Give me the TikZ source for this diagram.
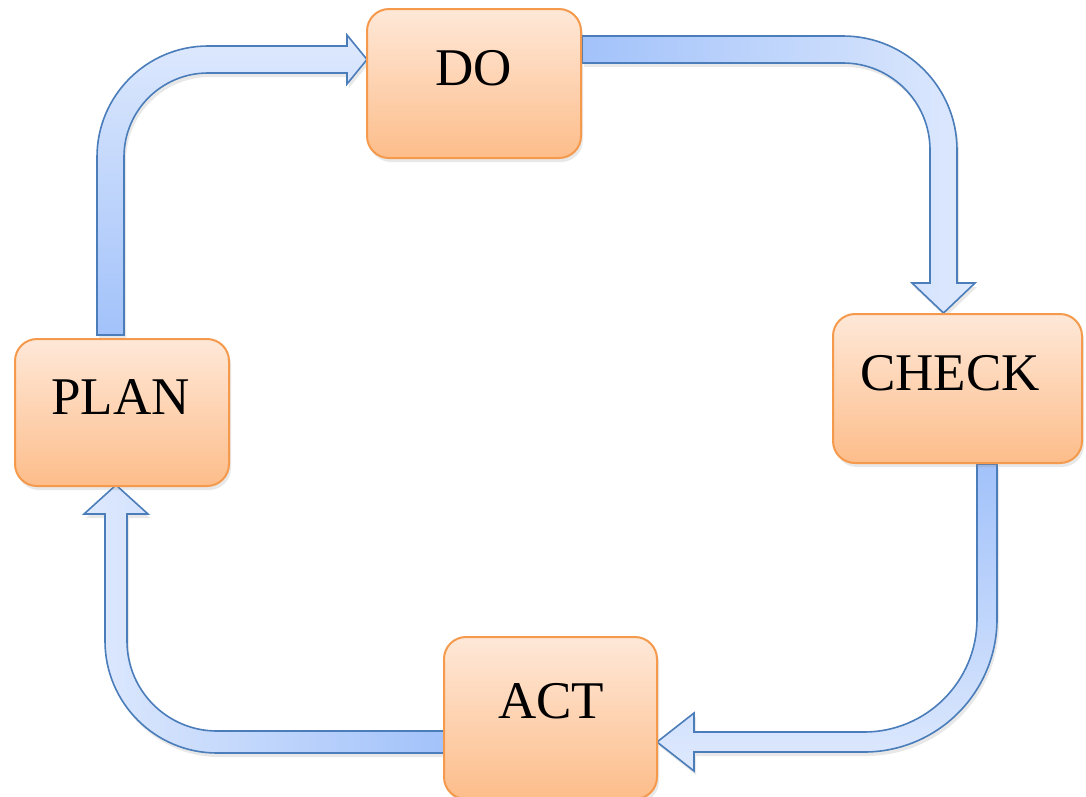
\documentclass[tikz,border=0pt]{standalone}
\usepackage{fontspec}
\setmainfont{Liberation Serif}
\usetikzlibrary{shadows}
\definecolor{boxtop}{HTML}{FEE8D8}
\definecolor{boxbot}{HTML}{FDBD8A}
\definecolor{boxline}{HTML}{F59A4C}
\definecolor{arrline}{HTML}{4A7DBA}
\definecolor{arrdark}{HTML}{A2C2FA}
\definecolor{arrlight}{HTML}{DEE9FD}
\begin{document}
\begin{tikzpicture}[x=1pt,y=-1pt,
  pdcabox/.style={draw=boxline, line width=2pt, rounded corners=22pt,
    top color=boxtop, bottom color=boxbot, inner sep=0pt,
    drop shadow={opacity=0.18, shadow xshift=2pt, shadow yshift=-4pt}},
  pdcatext/.style={font=\fontsize{53}{60}\selectfont, anchor=base, inner sep=0pt},
  blockarrow/.style={draw=arrline, line width=1.6pt, line join=miter,
    drop shadow={opacity=0.18, shadow xshift=2pt, shadow yshift=-4pt}}]
\useasboundingbox (0,0) rectangle (1086,796);

% block arrows
\draw[blockarrow, top color=arrlight, bottom color=arrdark]
  (97,335) -- (97,157) arc[start angle=180, end angle=270, radius=111]
  -- (347,46) -- (347,35) -- (367,59.5) -- (347,84) -- (347,73) -- (208,73)
  arc[start angle=270, end angle=180, radius=84] -- (124,335) -- cycle;
\draw[blockarrow, left color=arrdark, right color=arrlight]
  (582,36) -- (843,36) arc[start angle=270, end angle=360, radius=114]
  -- (957,283) -- (975,283) -- (943.5,313) -- (912,283) -- (930,283) -- (930,150)
  arc[start angle=0, end angle=-90, radius=87] -- (582,63) -- cycle;
\draw[blockarrow, top color=arrdark, bottom color=arrlight]
  (977,464) -- (997,464) -- (997,619) arc[start angle=0, end angle=90, radius=133]
  -- (694,752) -- (694,771) -- (657,742) -- (694,713) -- (694,732) -- (864,732)
  arc[start angle=90, end angle=0, radius=113] -- cycle;
\draw[blockarrow, left color=arrlight, right color=arrdark]
  (446,731) -- (446,753) -- (217,753) arc[start angle=90, end angle=180, radius=112]
  -- (105,514) -- (84,514) -- (116,485) -- (148,514) -- (127,514) -- (127,641)
  arc[start angle=180, end angle=90, radius=90] -- cycle;

% boxes
\node[pdcabox, minimum width=214pt, minimum height=149pt] (do) at (474,83.5) {};
\node[pdcabox, minimum width=249pt, minimum height=149pt] (check) at (957.5,388.5) {};
\node[pdcabox, minimum width=214pt, minimum height=147pt] (plan) at (122,412.5) {};
\node[pdcabox, minimum width=213pt, minimum height=162pt] (act) at (550.5,718) {};

% labels
\node[pdcatext] (dotext) at (474,85) {DO};
\node[pdcatext] (checktext) at (950,390) {CHECK};
\node[pdcatext] (plantext) at (120.5,414) {PLAN};
\node[pdcatext] (acttext) at (551,718) {ACT};
\end{tikzpicture}
\end{document}
